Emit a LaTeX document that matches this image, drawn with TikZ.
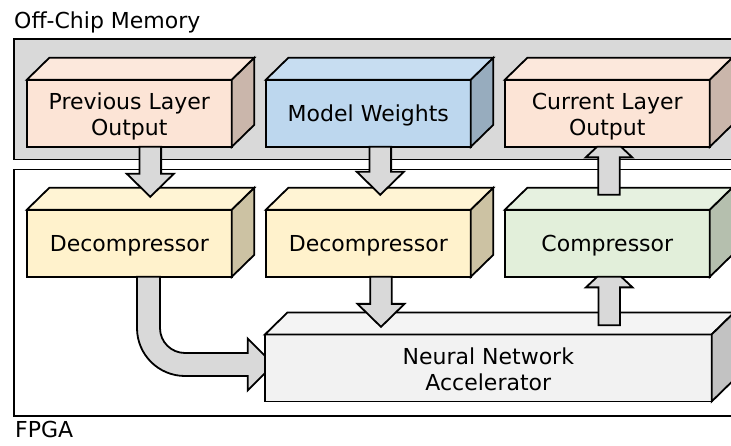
\documentclass[tikz,border=0pt]{standalone}
\usepackage{fontspec}
\setmainfont{DejaVu Sans}
\usetikzlibrary{calc}

\definecolor{peach}{HTML}{FCE4D6}
\definecolor{skyblue}{HTML}{BDD7EE}
\definecolor{cream}{HTML}{FFF2CC}
\definecolor{mint}{HTML}{E2EFDA}
\definecolor{pale}{HTML}{F2F2F2}
\definecolor{shade}{HTML}{D9D9D9}

\tikzset{
  outline/.style={draw=black, line width=1.8pt},
  front/.style={outline, fill=#1, minimum width=205, minimum height=67, align=center,
    inner sep=0pt, outer sep=0pt, text height=16pt, text depth=0pt},
  twolines/.style={text height=44pt},
  blockarrow/.style={outline, fill=shade},
}

\newcommand{\cubefaces}[2]{%
  \draw[outline, fill=#2!85!white] (#1.north west) -- ++(22.5,-22) -- ($(#1.north east)+(22.5,-22)$) -- (#1.north east) -- cycle;
  \draw[outline, fill=#2!80!black] (#1.north east) -- ++(22.5,-22) -- ($(#1.south east)+(22.5,-22)$) -- (#1.south east) -- cycle;}

\newcommand{\blockdown}[2]{%
  \draw[blockarrow] let \p1=#1, \p2=#2 in
    (\x1-10.8pt,\y1) -- (\x1-10.8pt,\y2+23pt) -- (\x1-23.5pt,\y2+23pt) -- (\x1,\y2)
    -- (\x1+23.5pt,\y2+23pt) -- (\x1+10.8pt,\y2+23pt) -- (\x1+10.8pt,\y1) -- cycle;}

\newcommand{\blockup}[2]{%
  \draw[blockarrow] let \p1=#1, \p2=#2 in
    (\x1-10.8pt,\y1) -- (\x1-10.8pt,\y2-10.6pt) -- (\x1-23.3pt,\y2-10.6pt) -- (\x1-12pt,\y2)
    -- (\x1+12pt,\y2) -- (\x1+23.3pt,\y2-10.6pt) -- (\x1+10.8pt,\y2-10.6pt) -- (\x1+10.8pt,\y1) -- cycle;}

\begin{document}
\begin{tikzpicture}[x=1pt, y=-1pt, font=\fontsize{22}{25.5}\selectfont]
\useasboundingbox (0,0) rectangle (731,446);
\clip (0,0) rectangle (731,446);

\draw[outline, fill=shade] (14,39) rectangle (760,159.5);
\draw[outline, fill=white] (14,169.5) rectangle (760,416);
\node[anchor=base west, inner sep=0pt] (offchip) at (14,28.3) {Off-Chip Memory};
\node[anchor=base west, inner sep=0pt] (fpga) at (15,437.3) {FPGA};

\node[front=peach, twolines] (prev) at (129.3,113.3) {Previous Layer\\Output};
\cubefaces{prev}{peach}
\node[front=skyblue] (weights) at (368.3,113.3) {Model Weights};
\cubefaces{weights}{skyblue}
\node[front=peach, twolines] (curr) at (607.3,113.3) {Current Layer\\Output};
\cubefaces{curr}{peach}

\node[front=cream] (decprev) at (129.3,243.3) {Decompressor};
\cubefaces{decprev}{cream}
\node[front=cream] (decweights) at (368.3,243.3) {Decompressor};
\cubefaces{decweights}{cream}
\node[front=mint] (comp) at (607.3,243.3) {Compressor};
\cubefaces{comp}{mint}

\node[front=pale, twolines, minimum width=446.7] (nna) at (488.3,368) {Neural Network\\Accelerator};
\cubefaces{nna}{pale}

\blockdown{($(prev.south)+(21,0)$)}{($(decprev.north)+(21,-13)$)}
\blockdown{($(weights.south)+(12,0)$)}{($(decweights.north)+(12,-15)$)}
\blockdown{($(decweights.south)+(12.7,0)$)}{($(decweights.south |- nna.north)+(12.7,-7.6)$)}
\blockup{($(comp.south |- nna.north)+(1.9,-9.3)$)}{($(comp.south)+(1.9,0)$)}
\blockup{($(comp.north)+(1.7,-15)$)}{($(curr.south)+(1.7,0)$)}

\draw[blockarrow] let \p1=(decprev.south), \p2=(nna.west) in
  (\x1+7.7pt,\y1) -- (\x1+7.7pt,\y1-51.3pt)
  .. controls (\x1+7.7pt,\y1-77.8pt) and (\x1+29.2pt,\y2-8pt) .. (\x1+55.7pt,\y2-8pt)
  -- (\x2-17.3pt,\y2-8pt) -- (\x2-17.3pt,\y2-22.5pt) -- (\x2,\y2-5.2pt) -- (\x2,\y2+12.2pt)
  -- (\x2-17.3pt,\y2+29.5pt) -- (\x2-17.3pt,\y2+15pt) -- (\x1+55.7pt,\y2+15pt)
  .. controls (\x1+41.9pt,\y2+15pt) and (\x1+30.7pt,\y1-65.1pt) .. (\x1+30.7pt,\y1-51.3pt)
  -- (\x1+30.7pt,\y1) -- cycle;
\end{tikzpicture}
\end{document}
